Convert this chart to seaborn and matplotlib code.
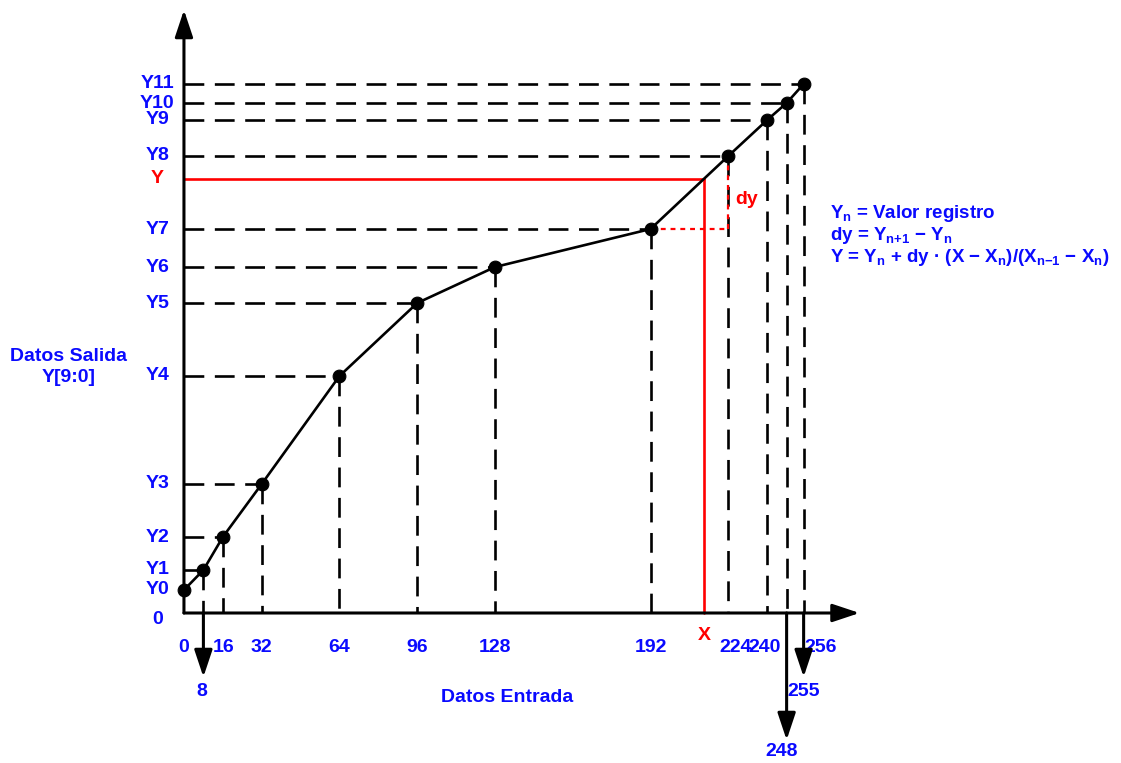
import matplotlib
matplotlib.use("Agg")
import matplotlib.pyplot as plt
import seaborn as sns
import pandas as pd

# register points (input code -> output value)
x_vals = [0, 8, 16, 32, 64, 96, 128, 192, 224, 240, 248, 255]
y_vals = [23, 43, 76, 129, 237, 310, 346, 384, 457, 493, 510, 529]
y_names = ["Y0", "Y1", "Y2", "Y3", "Y4", "Y5", "Y6", "Y7", "Y8", "Y9", "Y10", "Y11"]

# x labels under the axis
xtick_vals = [0, 16, 32, 64, 96, 128, 192, 224, 240, 256]
xtick_labels = ["0", "16", "32", "64", "96", "128", "192", "224", "240", "256"]
# inputs with a down arrow (label, arrow length)
arrow_vals = [8, 248, 255]
arrow_labels = ["8", "248", "255"]
arrow_len = [64, 127, 64]

# interpolated example
x_red = 214
seg = 7  # segment Y7 -> Y8
y_red = y_vals[seg] + (y_vals[seg + 1] - y_vals[seg]) * (x_red - x_vals[seg]) / (x_vals[seg + 1] - x_vals[seg])

df = pd.DataFrame({"x": x_vals, "y": y_vals})

sns.set_theme(style="white")
plt.rcParams["font.family"] = ["Liberation Sans", "DejaVu Sans"]
plt.rcParams["font.weight"] = "bold"
plt.rcParams["mathtext.fontset"] = "custom"
plt.rcParams["mathtext.rm"] = "Liberation Sans:bold"
plt.rcParams["mathtext.it"] = "Liberation Sans:bold"
plt.rcParams["mathtext.bf"] = "Liberation Sans:bold"

fig = plt.figure(figsize=(11.21, 7.63), dpi=100)
ax = fig.add_axes([0, 0, 1, 1])

blue = "#0a0aff"
red = "#ff0000"
lw = 1.9
dash = (0, (7.5, 4))
fs = 14

# dashed guide lines
for xv, yv in zip(x_vals[1:], y_vals[1:]):
    ax.plot([0, xv], [yv, yv], color="black", lw=lw, linestyle=dash, zorder=1)
    ax.plot([xv, xv], [yv, 0], color="black", lw=lw, linestyle=dash, zorder=1)

# red construction
ax.plot([0, x_red], [y_red, y_red], color=red, lw=lw, zorder=2)
ax.plot([x_red, x_red], [y_red, 0], color=red, lw=lw, zorder=2)
ax.plot([x_vals[seg], x_vals[seg + 1]], [y_vals[seg], y_vals[seg]], color=red, lw=1.6,
        linestyle=(0, (2.2, 2.2)), zorder=2)
ax.plot([x_vals[seg + 1], x_vals[seg + 1]], [y_vals[seg], y_vals[seg + 1]], color=red, lw=1.6,
        linestyle=(0, (2.2, 2.2)), zorder=3)
ax.text(231.5, 413, "dy", color=red, fontsize=fs, fontweight="bold", ha="center", va="center")
ax.text(x_red, -22, "X", color=red, fontsize=fs, fontweight="bold", ha="center", va="center")
ax.text(-11, y_red, "Y", color=red, fontsize=fs, fontweight="bold", ha="center", va="center")

# curve and points
sns.lineplot(data=df, x="x", y="y", color="black", lw=lw, ax=ax, zorder=4)
sns.scatterplot(data=df, x="x", y="y", color="black", s=85, edgecolor="black", ax=ax, zorder=5)
ax.set_xlim(-75.7, 385.6)
ax.set_ylim(-150, 613)
ax.axis("off")

head = dict(arrowstyle="-|>,head_length=0.66,head_width=0.22", color="black", lw=2.2,
            mutation_scale=25, shrinkA=0, shrinkB=0)
# axes
ax.annotate("", xy=(0, 603), xytext=(0, 0), arrowprops=head, zorder=6)
ax.annotate("", xy=(278, 0), xytext=(0, 0), arrowprops=head, zorder=6)

# down arrows
for xv, ln in zip(arrow_vals, arrow_len):
    ax.annotate("", xy=(xv, -ln), xytext=(xv, 0), arrowprops=head, zorder=6)

# labels
for xv, lab in zip(xtick_vals, xtick_labels):
    off = {224: 3, 240: -1, 256: 6, 16: 0.5}.get(xv, 0)
    ax.text(xv + off, -35, lab, color=blue, fontsize=fs, fontweight="bold", ha="center", va="center")
for xv, lab, ln in zip(arrow_vals, arrow_labels, arrow_len):
    offx = {8: -0.5, 248: -2, 255: 0}[xv]
    offy = {8: 15, 248: 12, 255: 15}[xv]
    ax.text(xv + offx, -ln - offy, lab, color=blue, fontsize=fs, fontweight="bold", ha="center", va="center")
for yv, lab in zip(y_vals, y_names):
    ax.text(-11, yv, lab, color=blue, fontsize=fs, fontweight="bold", ha="center", va="center")
ax.text(-11, -6, "0", color=blue, fontsize=fs, fontweight="bold", ha="center", va="center")

ax.text(133, -84, "Datos Entrada", color=blue, fontsize=fs, fontweight="bold", ha="center", va="center")
ax.text(-47.5, 246, "Datos Salida\nY[9:0]", color=blue, fontsize=fs, fontweight="bold",
        ha="center", va="center", linespacing=1.3)

# legend formulas
fl = 13.5
ax.text(266, 400, "$Y_n$ = Valor registro", color=blue, fontsize=fl, fontweight="bold", ha="left", va="center")
ax.text(266, 378, "dy = $Y_{n{+}1}$ \u2212 $Y_n$", color=blue, fontsize=fl, fontweight="bold", ha="left", va="center")
ax.text(266, 355, "Y = $Y_n$ + dy \u00b7 (X \u2212 $X_n$)/($X_{n{-}1}$ \u2212 $X_n$)", color=blue,
        fontsize=fl, fontweight="bold", ha="left", va="center")

fig.savefig("out.png", dpi=100, facecolor="white")
